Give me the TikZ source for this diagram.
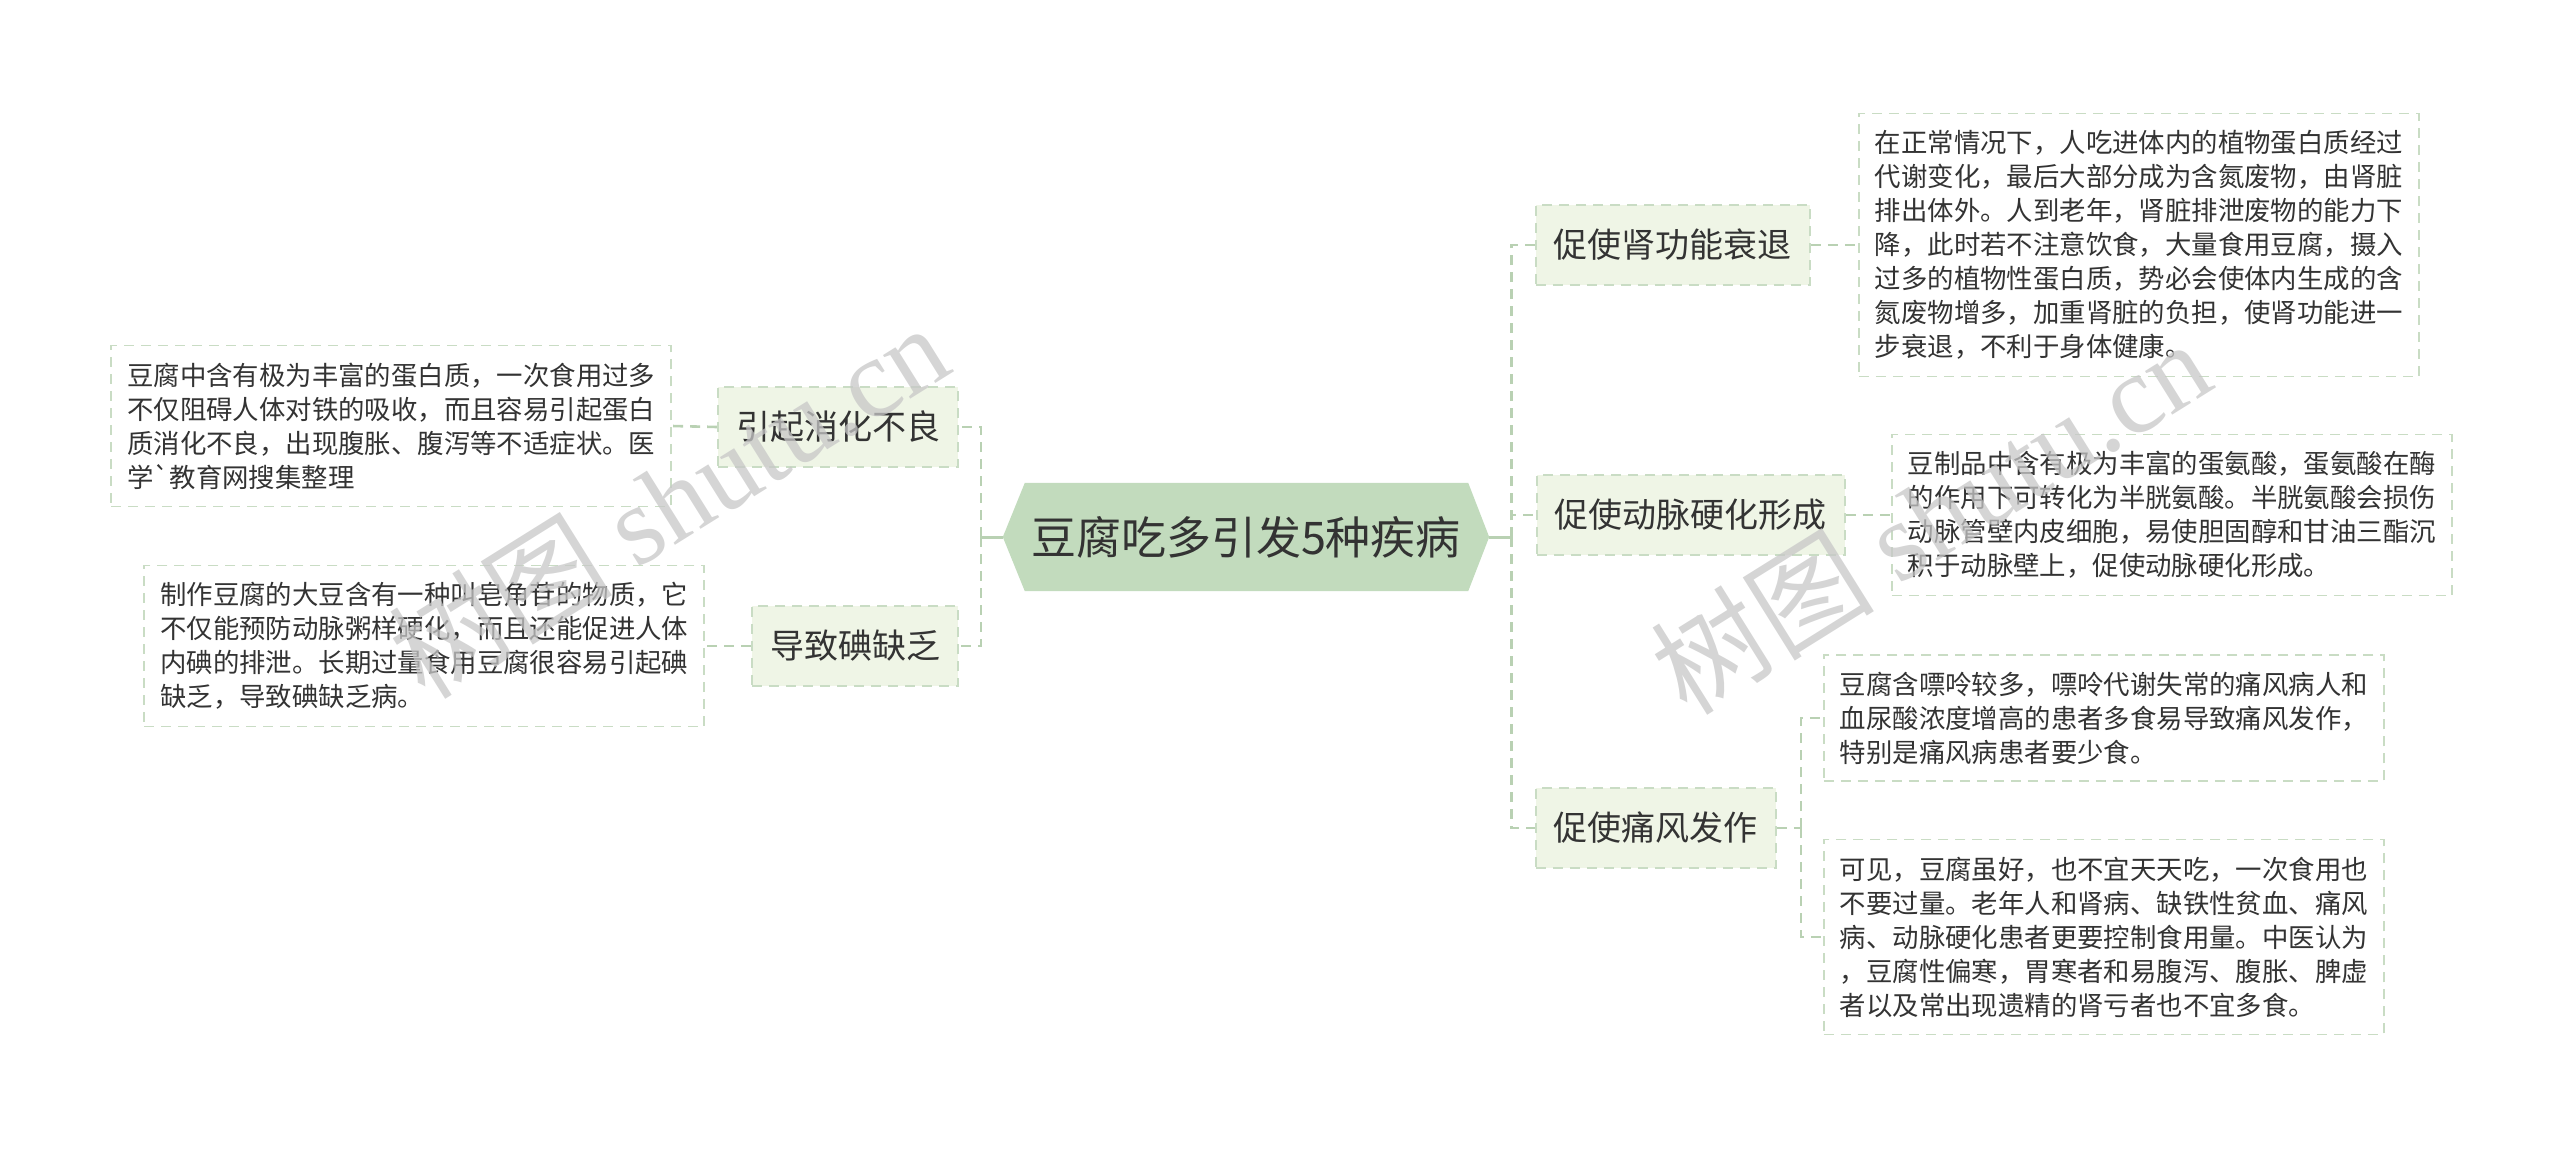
\documentclass[tikz,border=0pt]{standalone}
\usepackage{fontspec}
\setmainfont{Noto Sans CJK SC}
\newfontfamily\wmlatin{Liberation Serif}
\usetikzlibrary{backgrounds}
\definecolor{rootgreen}{HTML}{C2DBBD}
\definecolor{topicgreen}{HTML}{EFF5E6}
\definecolor{linegreen}{HTML}{B9D1B3}
\definecolor{boxgreen}{HTML}{C9DCC4}
\definecolor{inkgray}{HTML}{333333}
\newcommand{\gravemark}{\XeTeXglyph\XeTeXcharglyph"60\relax}

\begin{document}
\begin{tikzpicture}[x=1pt,y=-1pt,every node/.style={text=inkgray},
  rootbox/.style={minimum width=486pt,minimum height=108pt,inner sep=0pt,font=\fontsize{45}{54}\selectfont},
  topic/.style={draw=boxgreen,fill=topicgreen,line width=1.8pt,dash pattern=on 10pt off 7pt,minimum height=80pt,inner xsep=18pt,font=\fontsize{34}{40}\selectfont},
  note/.style={draw=boxgreen,fill=white,line width=1.6pt,dash pattern=on 10pt off 7pt,align=left,inner xsep=16pt,inner ysep=17pt,font=\fontsize{26.4}{34}\selectfont},
  link/.style={draw=linegreen,line width=2.6pt,dash pattern=on 10pt off 7pt},
  stem/.style={draw=linegreen,line width=3pt},
  wmark/.style={text=black!22,text opacity=0.75,font=\fontsize{112}{120}\selectfont,rotate=32}]
\useasboundingbox (0,0) rectangle (2560,1149);
% centre
\node[rootbox] (root) at (1246,537) {豆腐吃多引发5种疾病};
% left side
\node[topic,anchor=east] (dig) at (959,427) {引起消化不良};
\node[topic,anchor=east] (iod) at (959,646) {导致碘缺乏};
\node[note,anchor=east] (digtxt) at (672,426) {豆腐中含有极为丰富的蛋白质，一次食用过多\\不仅阻碍人体对铁的吸收，而且容易引起蛋白\\质消化不良，出现腹胀、腹泻等不适症状。医\\学\gravemark 教育网搜集整理};
\node[note,anchor=east] (iodtxt) at (705,646) {制作豆腐的大豆含有一种叫皂角苷的物质，它\\不仅能预防动脉粥样硬化，而且还能促进人体\\内碘的排泄。长期过量食用豆腐很容易引起碘\\缺乏，导致碘缺乏病。};
% right side
\node[topic,anchor=west] (kid) at (1535,245) {促使肾功能衰退};
\node[topic,anchor=west] (art) at (1536,515) {促使动脉硬化形成};
\node[topic,anchor=west] (gout) at (1535,828) {促使痛风发作};
\node[note,anchor=west] (kidtxt) at (1858,245) {在正常情况下，人吃进体内的植物蛋白质经过\\代谢变化，最后大部分成为含氮废物，由肾脏\\排出体外。人到老年，肾脏排泄废物的能力下\\降，此时若不注意饮食，大量食用豆腐，摄入\\过多的植物性蛋白质，势必会使体内生成的含\\氮废物增多，加重肾脏的负担，使肾功能进一\\步衰退，不利于身体健康。};
\node[note,anchor=west] (arttxt) at (1891,515) {豆制品中含有极为丰富的蛋氨酸，蛋氨酸在酶\\的作用下可转化为半胱氨酸。半胱氨酸会损伤\\动脉管壁内皮细胞，易使胆固醇和甘油三酯沉\\积于动脉壁上，促使动脉硬化形成。};
\node[note,anchor=west] (goutA) at (1823,718) {豆腐含嘌呤较多，嘌呤代谢失常的痛风病人和\\血尿酸浓度增高的患者多食易导致痛风发作，\\特别是痛风病患者要少食。};
\node[note,anchor=west] (goutB) at (1823,937) {可见，豆腐虽好，也不宜天天吃，一次食用也\\不要过量。老年人和肾病、缺铁性贫血、痛风\\病、动脉硬化患者更要控制食用量。中医认为\\，豆腐性偏寒，胃寒者和易腹泻、腹胀、脾虚\\者以及常出现遗精的肾亏者也不宜多食。};
% connectors
\coordinate (lhub) at ([xshift=-22pt]root.west); \coordinate (rhub) at ([xshift=22pt]root.east); \coordinate (ghub) at ([xshift=24pt]gout.east);
\begin{scope}[on background layer]
\fill[rootgreen] (root.west) -- ([xshift=22pt]root.north west) -- ([xshift=-21pt]root.north east) -- (root.east) -- ([xshift=-21pt]root.south east) -- ([xshift=22pt]root.south west) -- cycle;
\draw[stem] (root.west) -- (lhub); \draw[stem] (root.east) -- (rhub);
\draw[link] (lhub) |- (dig.east); \draw[link] (lhub) |- (iod.east);
\draw[link] (rhub) |- (kid.west); \draw[link] (rhub) |- (art.west); \draw[link] (rhub) |- (gout.west);
\draw[link] (dig.west) -- (digtxt.east); \draw[link] (iod.west) -- (iodtxt.east);
\draw[link] (kid.east) -- (kidtxt.west); \draw[link] (art.east) -- (arttxt.west);
\draw[link] (gout.east) -- (ghub); \draw[link] (ghub) |- (goutA.west); \draw[link] (ghub) |- (goutB.west);
\end{scope}
% watermarks
\node[wmark] (wm1) at (668,500) {树图 {\wmlatin shutu.cn}};
\node[wmark] (wm2) at (1930,516) {树图 {\wmlatin shutu.cn}};
\end{tikzpicture}
\end{document}
